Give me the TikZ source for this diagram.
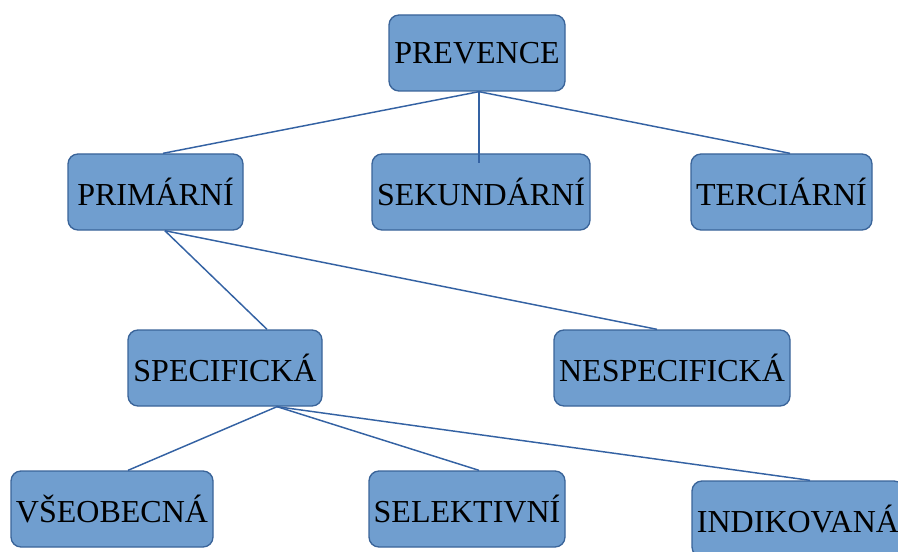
\documentclass[tikz,border=0pt]{standalone}
\usepackage{fontspec}
\setmainfont{Liberation Serif}
\definecolor{boxfill}{HTML}{709ECF}
\definecolor{boxline}{HTML}{3A6499}
\definecolor{linkline}{HTML}{3462A3}
\tikzset{
  level/.style={draw=boxline, line width=1pt, fill=boxfill, rounded corners=7.5pt,
    minimum height=57pt, inner sep=0pt, font=\fontsize{24}{28}\selectfont},
  link/.style={draw=linkline, line width=1.1pt}
}
\begin{document}
\begin{tikzpicture}[x=0.75pt, y=-0.75pt]
  \useasboundingbox (0,0) rectangle (898,552);

  % top level
  \node [level, minimum width=132pt] (prevence) at (477,53) {PREVENCE};

  % second level
  \node [level, minimum width=131.25pt] (primarni)   at (155.5,192) {PRIMÁRNÍ};
  \node [level, minimum width=163.5pt]  (sekundarni) at (481,192)   {SEKUNDÁRNÍ};
  \node [level, minimum width=135.75pt] (terciarni)  at (781.5,192) {TERCIÁRNÍ};

  % third level
  \node [level, minimum width=145.5pt] (specificka)   at (225,368) {SPECIFICKÁ};
  \node [level, minimum width=177pt]   (nespecificka) at (672,368) {NESPECIFICKÁ};

  % fourth level
  \node [level, minimum width=151.5pt] (vseobecna)  at (112,509) {VŠEOBECNÁ};
  \node [level, minimum width=147pt]   (selektivni) at (467,509) {SELEKTIVNÍ};
  \node [level, minimum width=159pt]   (indikovana) at (798,519) {INDIKOVANÁ};

  \draw [link] ([xshift=1.5pt]prevence.south) -- ([xshift=5.6pt]primarni.north);
  \draw [link] ([xshift=1.5pt]prevence.south) -- ([xshift=-1.5pt,yshift=-7pt]sekundarni.north);
  \draw [link] ([xshift=1.5pt]prevence.south) -- ([xshift=6.4pt]terciarni.north);

  \draw [link] ([xshift=7pt]primarni.south) -- ([xshift=31.5pt]specificka.north);
  \draw [link] ([xshift=7pt]primarni.south) -- ([xshift=-11.25pt]nespecificka.north);

  \draw [link] ([xshift=39pt]specificka.south) -- ([xshift=12pt]vseobecna.north);
  \draw [link] ([xshift=39pt]specificka.south) -- ([xshift=9pt]selektivni.north);
  \draw [link] ([xshift=39pt]specificka.south) -- ([xshift=9pt]indikovana.north);
\end{tikzpicture}
\end{document}
